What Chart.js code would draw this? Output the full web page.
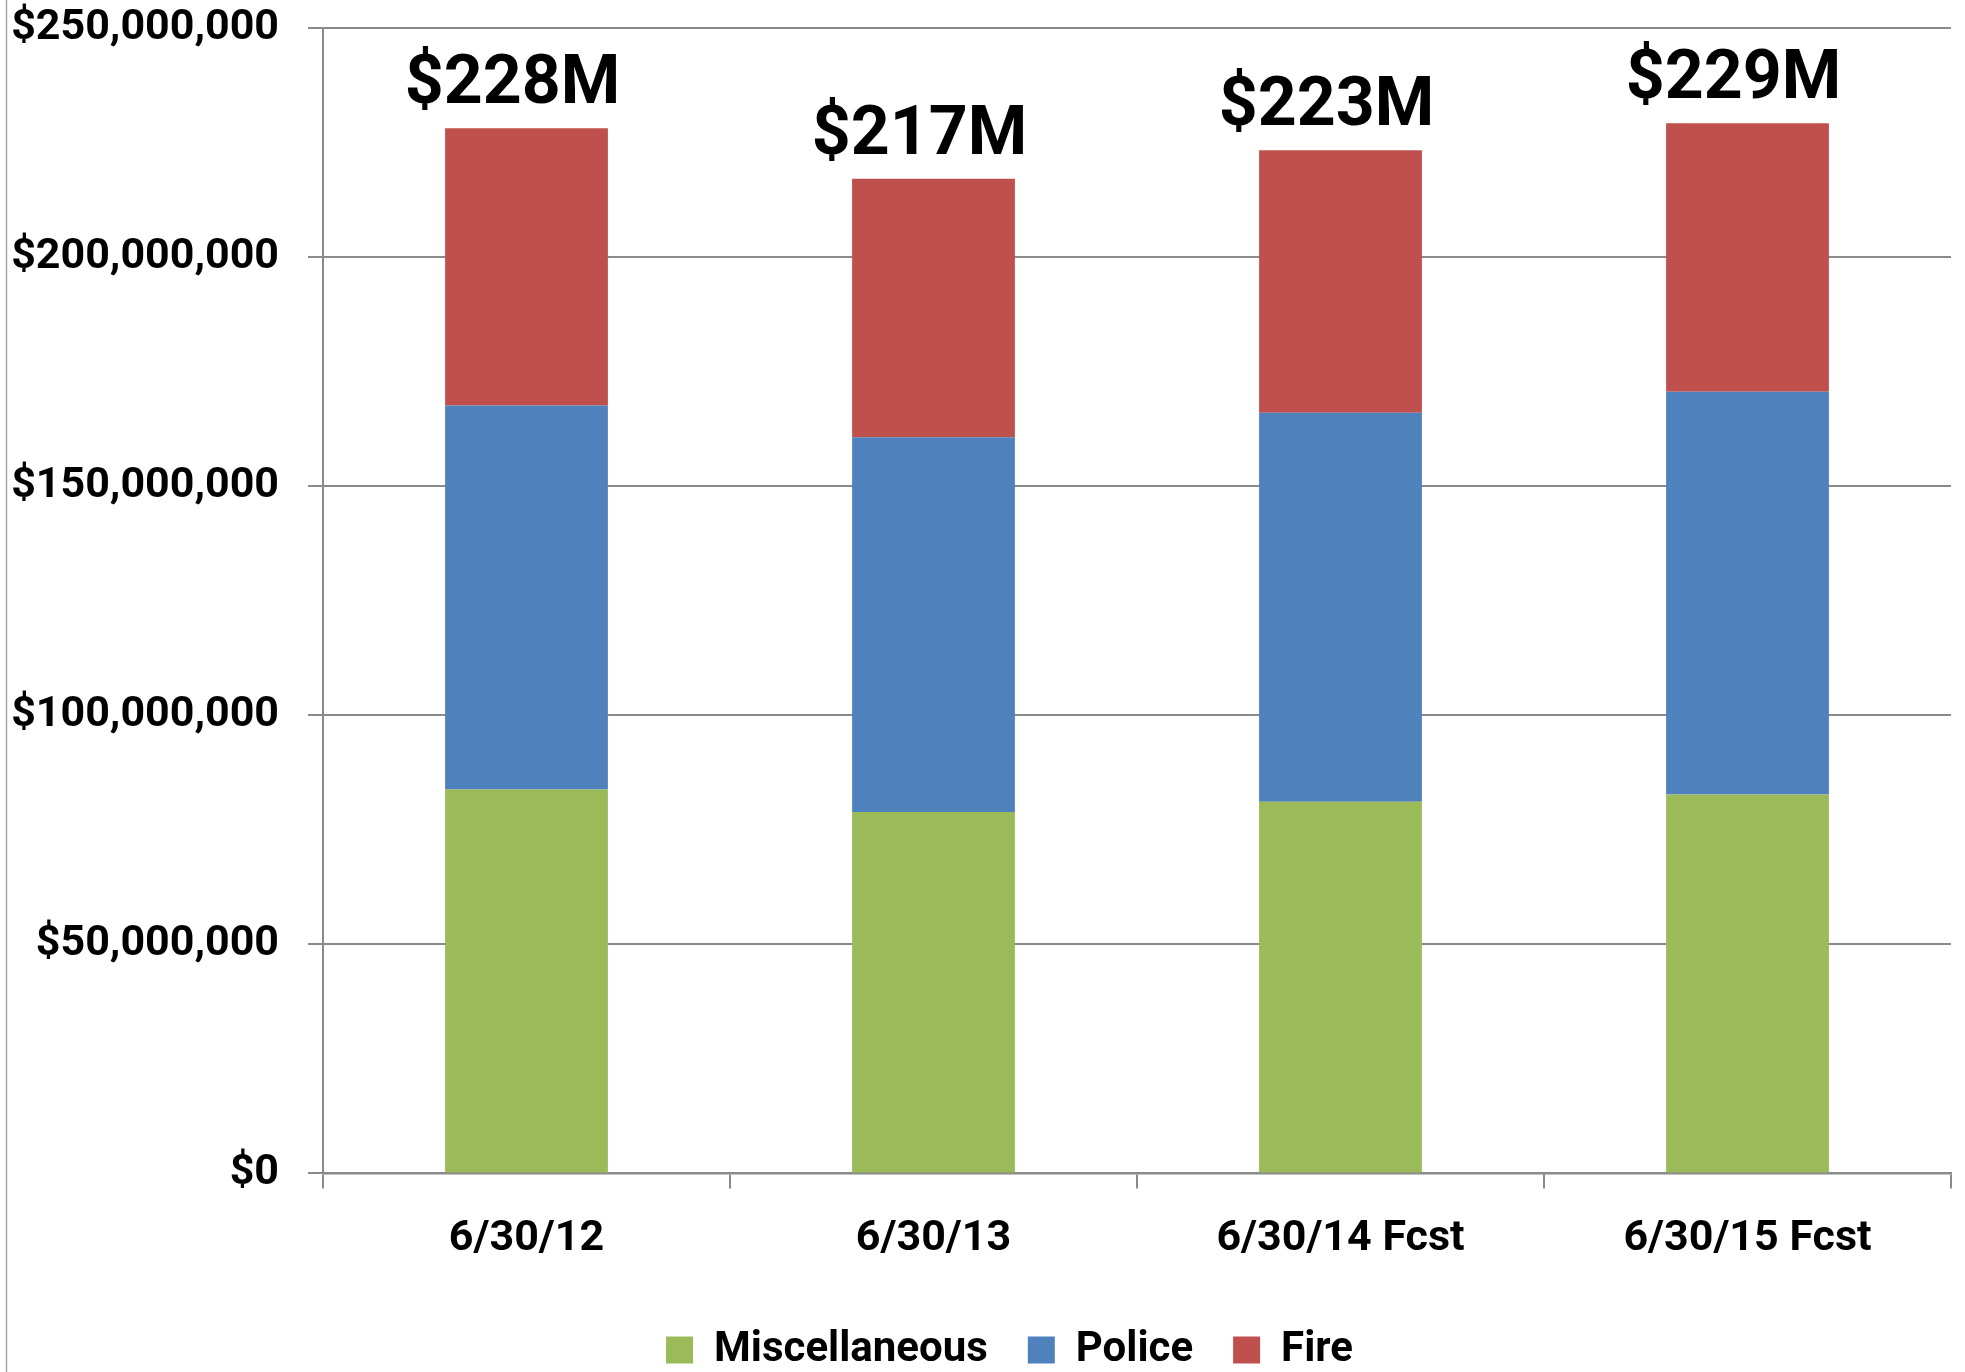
<!DOCTYPE html>
<html>
<head>
<meta charset="utf-8">
<script src="https://cdn.jsdelivr.net/npm/chart.js@4.4.1/dist/chart.umd.min.js"></script>
<style>
  html, body { margin: 0; padding: 0; background: #fff; }
  #wrap { position: relative; width: 1965px; height: 1372px; }
</style>
</head>
<body>
<div id="wrap"><canvas id="fundChart"></canvas></div>
<script>
// Data (millions of dollars)
const categories = ['6/30/12', '6/30/13', '6/30/14 Fcst', '6/30/15 Fcst'];
const miscellaneous = [83.8, 78.9, 81.1, 82.7];
const police = [83.8, 81.8, 84.9, 87.9];
const fire = [60.5, 56.4, 57.3, 58.6];
const yTicks = [0, 50, 250];

const FONT = 'Roboto, "Noto Sans", sans-serif';
const GRID = '#8a8a8a';

// Excel-ish frame line on the left edge
const frameLine = {
    id: 'frameLine',
    beforeDraw(chart) {
        const ctx = chart.ctx;
        ctx.save();
        ctx.strokeStyle = '#a6a6a6';
        ctx.lineWidth = 1.5;
        ctx.beginPath();
        ctx.moveTo(6.5, 0);
        ctx.lineTo(6.5, chart.height);
        ctx.stroke();
        ctx.restore();
    }
};

// legend sits a bit right of centre in the original
const legendShift = {
    id: 'legendShift',
    afterLayout(chart) {
        chart.legend.left += 34;
        chart.legend.right += 34;
    }
};

// Totals above each stack
const totalLabels = {
    id: 'totalLabels',
    afterDatasetsDraw(chart) {
        const { ctx, scales: { x, y } } = chart;
        ctx.save();
        ctx.font = 'bold 68px ' + FONT;
        ctx.fillStyle = '#000';
        ctx.textAlign = 'center';
        ctx.textBaseline = 'alphabetic';
        categories.forEach((c, i) => {
            const total = chart.data.datasets.reduce((s, d) => s + d.data[i], 0);
            const px = x.getPixelForValue(i) - 14;
            const py = y.getPixelForValue(total) - 25;
            ctx.fillText('$' + Math.round(total) + 'M', px, py);
        });
        ctx.restore();
    }
};

function initChart() {
    const ctx = document.getElementById('fundChart').getContext('2d');
    new Chart(ctx, {
        type: 'bar',
        data: {
            labels: categories,
            datasets: [
                { label: 'Miscellaneous', data: miscellaneous, backgroundColor: '#9BBB59' },
                { label: 'Police', data: police, backgroundColor: '#4F81BD' },
                { label: 'Fire', data: fire, backgroundColor: '#C0504D' }
            ]
        },
        options: {
            responsive: true, maintainAspectRatio: false, animation: false,
            datasets: { bar: { barPercentage: 0.4, categoryPercentage: 1 } },
            layout: { padding: { left: 0, right: 14, top: 28, bottom: -9 } },
            plugins: {
                tooltip: { enabled: false },
                legend: {
                    position: 'bottom',
                    labels: { boxWidth: 27, boxHeight: 27, padding: 40, color: '#000', font: { family: FONT, size: 42, weight: 'bold' } }
                }
            },
            scales: {
                x: {
                    stacked: true,
                    afterFit(scale) { scale.height -= 1; },
                    grid: { display: true, drawOnChartArea: false, drawTicks: true, tickLength: 15, color: GRID, lineWidth: 2, offset: true },
                    border: { color: GRID, width: 2.5 },
                    ticks: { color: '#000', padding: 25, font: { family: FONT, size: 43, weight: 'bold' } }
                },
                y: {
                    stacked: true, min: yTicks[0], max: yTicks[2],
                    afterFit(scale) { scale.width = 323; scale.paddingTop = 0; scale.paddingBottom = 0; },
                    grid: { color: GRID, lineWidth: 2, tickLength: 15 },
                    border: { color: GRID, width: 2 },
                    ticks: {
                        stepSize: yTicks[1], color: '#000', padding: 29,
                        font: { family: FONT, size: 43, weight: 'bold' },
                        callback: v => '$' + (v * 1e6).toLocaleString('en-US')
                    }
                }
            }
        },
        plugins: [frameLine, legendShift, totalLabels]
    });
}

document.addEventListener('DOMContentLoaded', initChart);
</script>
</body>
</html>
